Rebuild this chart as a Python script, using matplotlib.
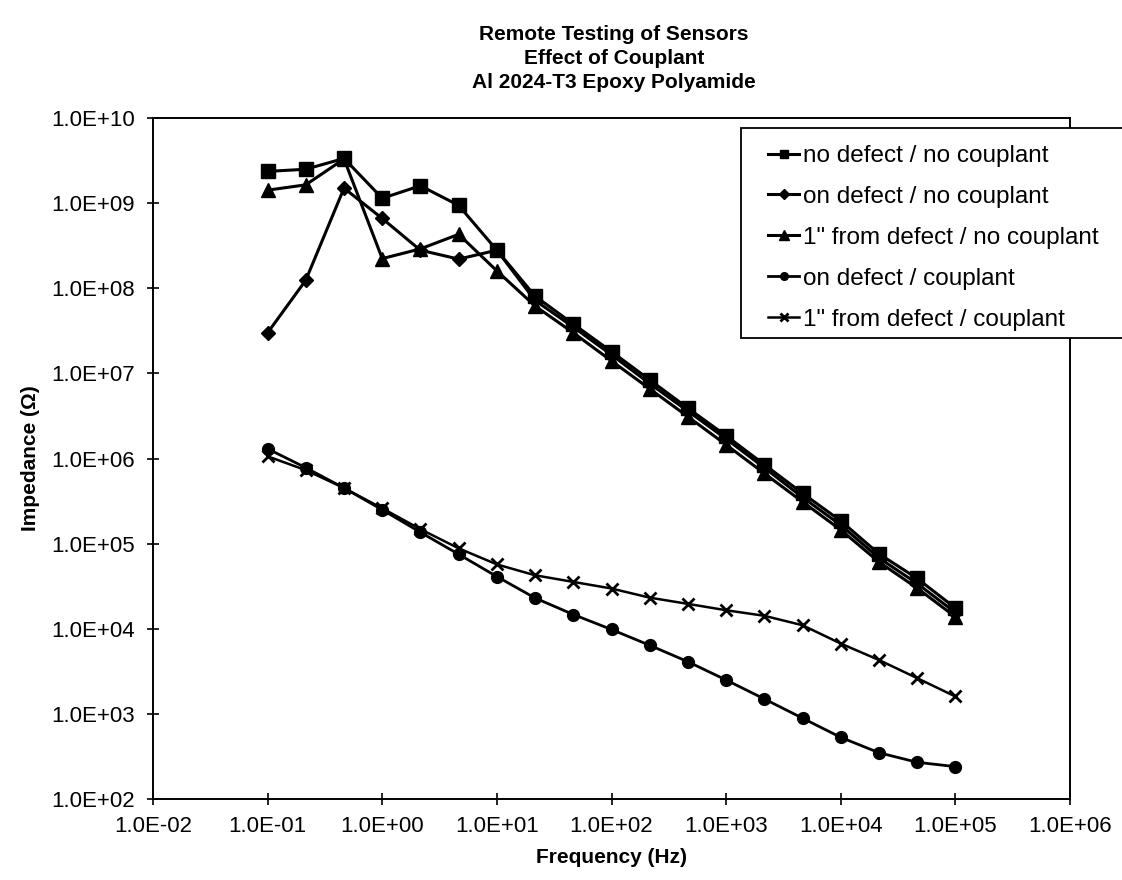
import matplotlib
matplotlib.use("Agg")
import matplotlib.pyplot as plt
from matplotlib.patches import Rectangle
from matplotlib.ticker import FixedLocator, FuncFormatter, NullLocator

plt.rcParams['font.family'] = ['Liberation Sans', 'DejaVu Sans']

# Sweep frequencies (Hz), three points per decade
freq = [0.1, 0.215, 0.464, 1, 2.15, 4.64, 10, 21.5, 46.4, 100, 215, 464,
        1000, 2150, 4640, 1e4, 2.15e4, 4.64e4, 1e5]

# Impedance magnitude (ohm) for each sensor condition
no_defect_no_couplant = [2.36e9, 2.5e9, 3.35e9, 1.14e9, 1.6e9, 9.4e8, 2.8e8,
                         8.1e7, 3.8e7, 1.8e7, 8.4e6, 3.9e6, 1.85e6, 8.5e5,
                         3.9e5, 1.85e5, 7.6e4, 3.9e4, 1.75e4]
on_defect_no_couplant = [3.0e7, 1.24e8, 1.5e9, 6.6e8, 2.8e8, 2.2e8, 2.8e8,
                         7.2e7, 3.5e7, 1.65e7, 7.6e6, 3.6e6, 1.7e6, 7.8e5,
                         3.5e5, 1.65e5, 6.8e4, 3.4e4, 1.55e4]
from_defect_no_couplant = [1.42e9, 1.64e9, 3.3e9, 2.23e8, 2.9e8, 4.3e8, 1.6e8,
                           6.2e7, 3.0e7, 1.4e7, 6.6e6, 3.1e6, 1.45e6, 6.7e5,
                           3.1e5, 1.45e5, 6.1e4, 3.0e4, 1.38e4]
on_defect_couplant = [1.3e6, 7.8e5, 4.5e5, 2.5e5, 1.36e5, 7.5e4, 4.1e4,
                      2.3e4, 1.47e4, 9.8e3, 6.4e3, 4.1e3, 2.5e3, 1.5e3,
                      8.9e2, 5.3e2, 3.5e2, 2.7e2, 2.4e2]
from_defect_couplant = [1.06e6, 7.3e5, 4.5e5, 2.6e5, 1.48e5, 8.8e4, 5.7e4,
                        4.25e4, 3.55e4, 2.97e4, 2.32e4, 1.96e4, 1.65e4, 1.42e4,
                        1.1e4, 6.7e3, 4.3e3, 2.63e3, 1.6e3]

series_labels = ['no defect / no couplant', 'on defect / no couplant',
                 '1" from defect / no couplant', 'on defect / couplant',
                 '1" from defect / couplant']

title_lines = ['Remote Testing of Sensors', 'Effect of Couplant',
               'Al 2024-T3 Epoxy Polyamide']

x_ticks = [1e-2, 1e-1, 1e0, 1e1, 1e2, 1e3, 1e4, 1e5, 1e6]
y_ticks = [1e2, 1e3, 1e4, 1e5, 1e6, 1e7, 1e8, 1e9, 1e10]

W, H = 1122, 880
fig = plt.figure(figsize=(W / 100, H / 100), dpi=100)
ax = fig.add_axes([153 / W, 1 - 799 / H, (1070 - 153) / W, (799 - 118) / H])

styles = [
    dict(marker='s', markersize=9.5, lw=2.2),
    dict(marker='D', markersize=7.5, lw=2.2),
    dict(marker='^', markersize=10, lw=2.2),
    dict(marker='o', markersize=8.5, lw=2.0),
    dict(marker='x', markersize=9, lw=1.8, mew=2.0),
]
data = [no_defect_no_couplant, on_defect_no_couplant, from_defect_no_couplant,
        on_defect_couplant, from_defect_couplant]

handles = []
for vals, lab, st in zip(data, series_labels, styles):
    h, = ax.plot(freq, vals, color='black', label=lab, **st)
    handles.append(h)

ax.set_xscale('log')
ax.set_yscale('log')
ax.set_xlim(1e-2, 1e6)
ax.set_ylim(1e2, 1e10)


def sci_fmt(v, pos):
    mant, exp = ('%.1E' % v).split('E')
    return '%sE%s%02d' % (mant, exp[0], int(exp[1:]))


ax.xaxis.set_major_locator(FixedLocator(x_ticks))
ax.yaxis.set_major_locator(FixedLocator(y_ticks))
ax.xaxis.set_minor_locator(NullLocator())
ax.yaxis.set_minor_locator(NullLocator())
ax.xaxis.set_major_formatter(FuncFormatter(sci_fmt))
ax.yaxis.set_major_formatter(FuncFormatter(sci_fmt))
ax.tick_params(axis='both', which='major', direction='inout', length=8,
               width=1.2, labelsize=16, color='black')
ax.tick_params(axis='y', pad=9)
ax.tick_params(axis='x', pad=8)

for sp in ax.spines.values():
    sp.set_linewidth(1.4)
    sp.set_color('black')

ax.set_xlabel('Frequency (Hz)', fontsize=15, fontweight='bold', labelpad=8)
ax.set_ylabel('Impedance (Ω)', fontsize=15, fontweight='bold', labelpad=8)

for i, line in enumerate(title_lines):
    fig.text(0.5473, 1 - (34 + 24 * i) / H, line, ha='center', va='center',
             fontsize=15, fontweight='bold')

# Legend box runs past the right edge of the figure
box = Rectangle((741 / W, 1 - 338 / H), (1140 - 741) / W, (338 - 128) / H,
                transform=fig.transFigure, facecolor='white',
                edgecolor='black', linewidth=1.3, zorder=5)
fig.patches.append(box)

leg = fig.legend(handles=handles, loc='upper left',
                 bbox_to_anchor=(768 / W, 1 - 145 / H),
                 bbox_transform=fig.transFigure, frameon=False,
                 fontsize=17.5, handlelength=1.28, handletextpad=0.15,
                 labelspacing=0.78, borderpad=0.0, borderaxespad=0.0,
                 markerscale=0.65)
leg.set_zorder(6)

fig.savefig('out.png', dpi=100, facecolor='white')
